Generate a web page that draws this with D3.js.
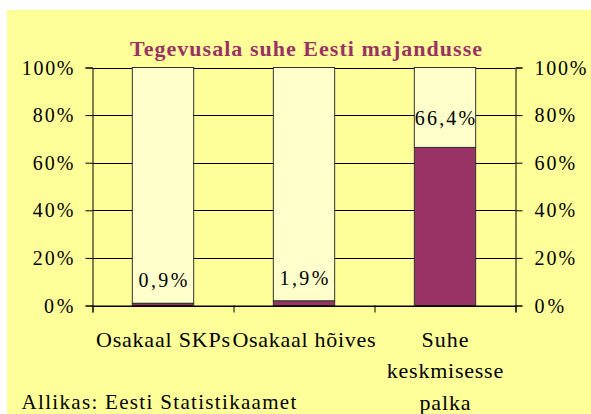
<!DOCTYPE html>
<html><head><meta charset="utf-8">
<script src="https://cdn.jsdelivr.net/npm/d3@7"></script>
</head><body style="margin:0">
<script>
const categories = [["Osakaal SKPs"], ["Osakaal hõives"], ["Suhe", "keskmisesse", "palka"]];
const values = [0.009, 0.019, 0.664];
const valueLabels = ["0,9%", "1,9%", "66,4%"];
const yTicks = [0, 0.2, 0.4, 0.6, 0.8, 1];
const title = "Tegevusala suhe Eesti majandusse";
const source = "Allikas: Eesti Statistikaamet";

const W = 591, H = 414;
const FONT = "Liberation Serif";
const svg = d3.select("body").append("svg").attr("width", W).attr("height", H)
  .style("font-family", '"Liberation Serif"');

// widen a text so it spans the width seen in the reference
function widen(sel, factor) {
  sel.each(function () {
    const w = this.getComputedTextLength();
    d3.select(this).attr("textLength", w * factor).attr("lengthAdjust", "spacing");
  });
}

svg.append("rect").attr("x", 7).attr("y", 10).attr("width", W - 7).attr("height", H - 10).attr("fill", "#FFFF99");

const x = d3.scaleBand().domain(d3.range(categories.length)).range([92.5, 515.5]).paddingInner(0.565).paddingOuter(0.2825);
const xb = d3.scaleBand().domain(d3.range(categories.length)).range([92.5, 515.5]);
const y = d3.scaleLinear().domain([0, 1]).range([305.5, 67.5]);

svg.append("g").selectAll("line").data(yTicks).join("line")
  .attr("x1", 92.5).attr("x2", 515.5)
  .attr("y1", d => Math.round(y(d)) + 0.5).attr("y2", d => Math.round(y(d)) + 0.5)
  .attr("stroke", "#000").attr("stroke-width", 1);

const bars = svg.append("g");
bars.selectAll("rect.top").data(values).join("rect")
  .attr("x", (d, i) => x(i)).attr("width", x.bandwidth())
  .attr("y", y(1)).attr("height", d => y(d) - y(1))
  .attr("fill", "#FFFFCC").attr("stroke", "#333").attr("stroke-width", 1);
bars.selectAll("rect.val").data(values).join("rect")
  .attr("x", (d, i) => x(i)).attr("width", x.bandwidth())
  .attr("y", d => y(d)).attr("height", d => y(0) - y(d))
  .attr("fill", "#993366").attr("stroke", "#333").attr("stroke-width", 1);

const pct = d3.format(".0%");
const gl = svg.append("g").attr("transform", "translate(92.5,0)").call(d3.axisLeft(y).tickValues(yTicks).tickSize(7).tickFormat(pct));
const gr = svg.append("g").attr("transform", "translate(515.5,0)").call(d3.axisRight(y).tickValues(yTicks).tickSize(7).tickFormat(pct));
[gl, gr].forEach(g => {
  g.attr("font-family", FONT).attr("font-size", 20);
  g.select(".domain").attr("stroke", "#000");
  g.selectAll(".tick line").attr("stroke", "#000");
  g.selectAll(".tick text").attr("font-family", FONT).attr("font-size", 20).attr("fill", "#000")
    .attr("dy", null).attr("y", 6.5);
});
gl.selectAll(".tick text").attr("x", -19);
gr.selectAll(".tick text").attr("x", 19);
widen(svg.selectAll(".tick text"), 1.11);

const gb = svg.append("g").attr("transform", "translate(0,305.5)")
  .call(d3.axisBottom(d3.scaleLinear().domain([0, 3]).range([92.5, 515.5])).tickValues([0, 1, 2, 3]).tickSize(7).tickFormat(""));
gb.select(".domain").attr("stroke", "#000");
gb.selectAll(".tick line").attr("stroke", "#000");

const cat = svg.append("g");
categories.forEach((lines, i) => {
  lines.forEach((ln, j) => {
    cat.append("text").attr("text-anchor", "middle")
      .attr("font-family", FONT).attr("font-size", 22).attr("fill", "#000")
      .attr("x", xb(i) + xb.bandwidth() / 2).attr("y", 346.5 + j * 31.5).text(ln);
  });
});
widen(cat.selectAll("text"), 1.07);

const vl = svg.append("g").selectAll("text").data(values).join("text")
  .attr("x", (d, i) => x(i) + x.bandwidth() / 2)
  .attr("y", d => y(d) - (d > 0.5 ? 22 : 16))
  .attr("text-anchor", "middle").attr("font-family", FONT).attr("font-size", 20).attr("fill", "#000")
  .text((d, i) => valueLabels[i]);
widen(vl, 1.17);

const tt = svg.append("text").attr("x", 306).attr("y", 56).attr("text-anchor", "middle")
  .attr("font-family", FONT).attr("font-weight", "bold").attr("font-size", 22)
  .attr("fill", "#993366").text(title);
widen(tt, 1.1);

const src = svg.append("text").attr("x", 21.5).attr("y", 408.5)
  .attr("font-family", FONT).attr("font-size", 21).attr("fill", "#000").text(source);
widen(src, 1.155);
</script>
</body></html>
